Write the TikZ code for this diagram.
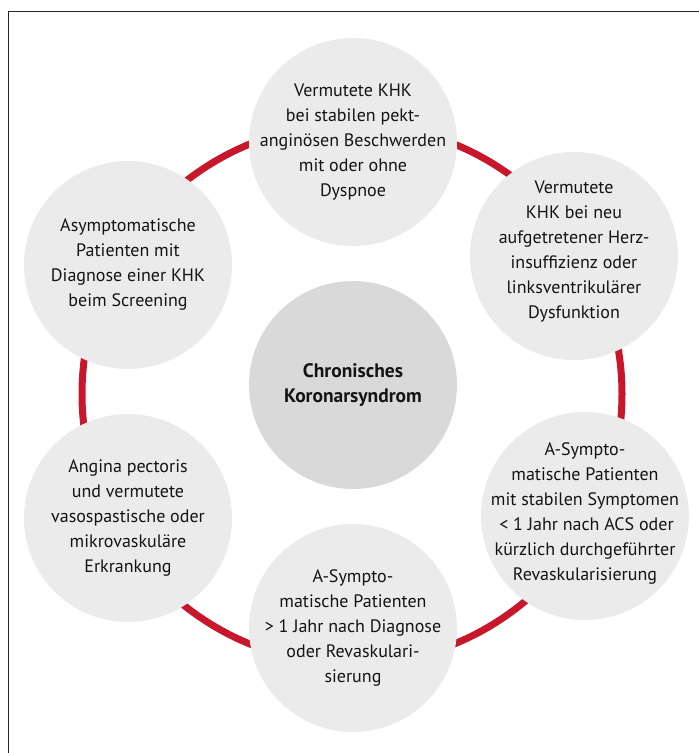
\documentclass[tikz,border=0pt]{standalone}
\usepackage{fontspec}
\setmainfont{PT Sans}
\usepackage{xcolor}
\usepackage{tikz}
\usetikzlibrary{positioning, calc}
\definecolor{ringred}{RGB}{200,22,43}
\definecolor{bubblegray}{RGB}{235,235,235}
\definecolor{coregray}{RGB}{217,217,217}
\definecolor{txtdark}{RGB}{20,20,20}
\tikzset{
  bubble/.style={circle,fill=bubblegray,minimum size=208pt,inner sep=0pt},
  core/.style={circle,fill=coregray,minimum size=208pt,inner sep=0pt},
  btxt/.style={align=center,inner sep=0pt,text=txtdark,font=\fontsize{18}{25}\selectfont},
  ring/.style={draw=ringred,line width=7pt},
  frame/.style={draw=black!85,line width=1pt}
}

\begin{document}
\begin{tikzpicture}[x=1pt,y=-1pt]
  \useasboundingbox (0,0) rectangle (699,753);

  % Frame (only top and left edges visible)
  \coordinate (fr-tl) at (8,11);
  \coordinate (fr-tr) at (699,11);
  \coordinate (fr-bl) at (8,753);
  \draw[frame] (fr-tr) -- (fr-tl) -- (fr-bl);

  % Ring
  \coordinate (rc) at (352,394);
  \draw[ring] (rc) circle (270);

  % Bubbles
  \node[bubble] (top) at (353,142) {};
  \node[bubble] (ru)  at (574,256) {};
  \node[bubble] (rl)  at (585,516) {};
  \node[bubble] (bot) at (353,628) {};
  \node[bubble] (ll)  at (128,518) {};
  \node[bubble] (lu)  at (128,265) {};
  \node[core]   (mid) at (353,385) {};

  % Texts
  \node[btxt] (top-t) at (top) {Vermutete KHK\\bei stabilen pekt-\\anginösen Beschwerden\\mit oder ohne\\Dyspnoe};
  \node[btxt] (ru-t)  at ($(ru)+(0,-4)$) {Vermutete\\KHK bei neu\\aufgetretener Herz-\\insuffizienz oder\\linksventrikulärer\\Dysfunktion};
  \node[btxt] (rl-t)  at ($(rl)+(0,-3)$) {A-Sympto-\\matische Patienten\\mit stabilen Symptomen\\\,< 1 Jahr nach ACS oder\\kürzlich durchgeführter\\Revaskularisierung};
  \node[btxt] (bot-t) at (bot) {A-Sympto-\\matische Patienten\\> 1 Jahr nach Diagnose\\oder Revaskulari-\\sierung};
  \node[btxt] (ll-t)  at (ll) {Angina pectoris\\und vermutete\\vasospastische oder\\mikrovaskuläre\\Erkrankung};
  \node[btxt] (lu-t)  at (lu) {Asymptomatische\\Patienten mit\\Diagnose einer KHK\\beim Screening};
  \node[btxt,font=\bfseries\fontsize{19.5}{25}\selectfont] (mid-t) at (mid) {Chronisches\\Koronarsyndrom};
\end{tikzpicture}
\end{document}
